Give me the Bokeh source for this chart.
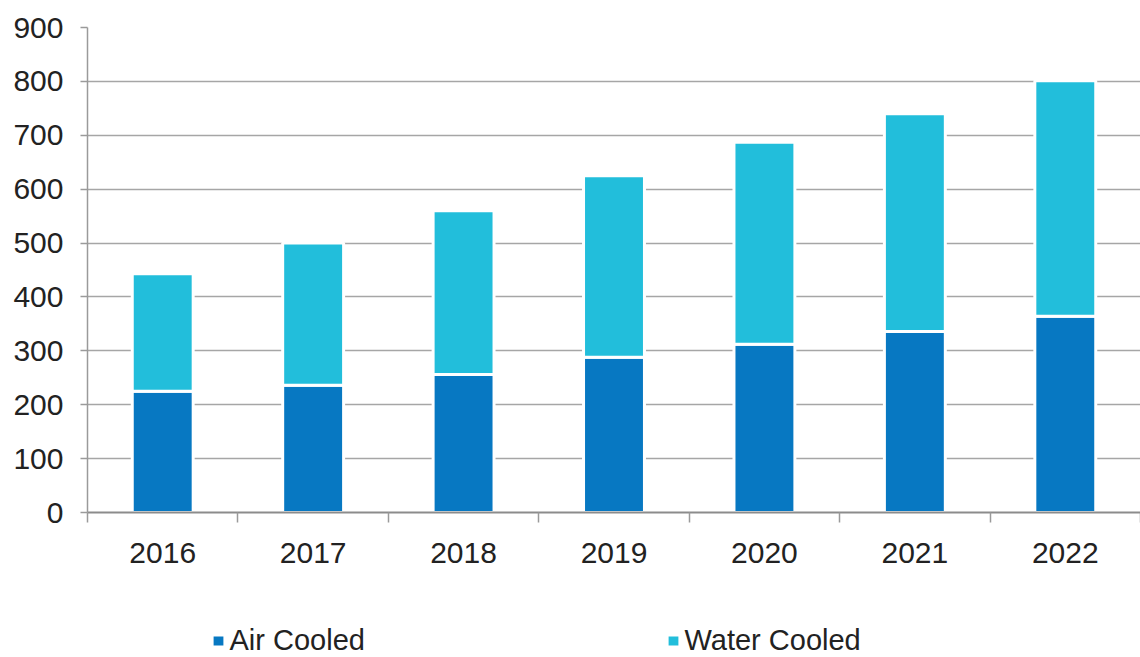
import numpy as np
from bokeh.plotting import figure
from bokeh.layouts import column
from bokeh.models import ColumnDataSource, FixedTicker, Legend, LegendItem
from bokeh.embed import file_html
from bokeh.resources import INLINE

# Installed units per year, stacked by cooling type
years = ["2016", "2017", "2018", "2019", "2020", "2021", "2022"]
air_cooled = [225, 236, 256, 288, 312, 336, 364]
water_cooled = [218, 264, 304, 337, 375, 404, 437]
y_ticks = [0, 100, 200, 300, 400, 500, 600, 700, 800, 900]
series_names = ["Air Cooled", "Water Cooled"]

AIR = "#0778c2"
WATER = "#22bedb"
FONT = "Liberation Sans"

xpos = np.arange(len(years)) + 0.5
src = ColumnDataSource(dict(x=xpos, air=air_cooled, water=water_cooled))

p = figure(width=1140, height=600, output_backend="svg", toolbar_location=None,
           x_range=(0, len(years)), y_range=(0, 900),
           min_border_left=87, min_border_right=0, min_border_top=27,
           min_border_bottom=88)
p.outline_line_color = None
p.background_fill_color = "white"
p.border_fill_color = "white"

rs = p.vbar_stack(["air", "water"], x="x", width=0.405, source=src,
                  color=[AIR, WATER], line_color="white", line_width=3)

# y axis
p.yaxis.ticker = FixedTicker(ticks=y_ticks)
p.yaxis.axis_line_color = "#9a9a9a"
p.yaxis.axis_line_width = 1.5
p.yaxis.major_tick_line_color = "#9a9a9a"
p.yaxis.major_tick_line_width = 1.5
p.yaxis.major_tick_out = 7
p.yaxis.major_tick_in = 0
p.yaxis.minor_tick_line_color = None
p.yaxis.major_label_standoff = 17
p.yaxis.major_label_text_font = FONT
p.yaxis.major_label_text_font_size = "30px"
p.yaxis.major_label_text_color = "#222222"

# x axis: labels at bar centres, tick marks at category boundaries
p.xaxis.ticker = FixedTicker(ticks=list(xpos),
                             minor_ticks=list(range(len(years) + 1)))
p.xaxis.major_label_overrides = {float(x): y for x, y in zip(xpos, years)}
p.xaxis.axis_line_color = "#8c8c8c"
p.xaxis.axis_line_width = 2
p.xaxis.major_tick_line_color = None
p.xaxis.major_tick_out = 0
p.xaxis.major_tick_in = 0
p.xaxis.minor_tick_line_color = "#9a9a9a"
p.xaxis.minor_tick_line_width = 1.5
p.xaxis.minor_tick_out = 10
p.xaxis.minor_tick_in = 0
p.xaxis.major_label_standoff = 20
p.xaxis.major_label_text_font = FONT
p.xaxis.major_label_text_font_size = "30px"
p.xaxis.major_label_text_color = "#222222"

p.xgrid.grid_line_color = None
p.ygrid.grid_line_color = "#a6a6a6"
p.ygrid.grid_line_width = 1.5

# legend strip under the chart; hidden key renderers carry the bars' styling
lg = figure(width=1140, height=57, output_backend="svg", toolbar_location=None,
            x_range=(0, 1), y_range=(0, 1), x_axis_type=None, y_axis_type=None,
            min_border=0)
lg.outline_line_color = None
lg.grid.visible = False
keys = []
for c in (AIR, WATER):
    k = lg.vbar(x=[0.5], top=[1], width=0.1, color=c,
                line_color="white", line_width=3)
    k.visible = False
    keys.append(k)

# the frame of this strip is aligned with the chart's frame (left edge x=87)
legend = Legend(items=[LegendItem(label=n, renderers=[k])
                       for n, k in zip(series_names, keys)],
                orientation="horizontal", location=(122.5, 0),
                spacing=102, padding=0, margin=0, label_width=333,
                glyph_width=16, glyph_height=15, label_standoff=4,
                border_line_color=None, background_fill_alpha=0,
                label_text_font=FONT, label_text_font_size="29px",
                label_text_color="#222222")
lg.add_layout(legend, "center")

layout = column(p, lg, spacing=0)
open("out.html", "w").write(file_html(layout, INLINE))
